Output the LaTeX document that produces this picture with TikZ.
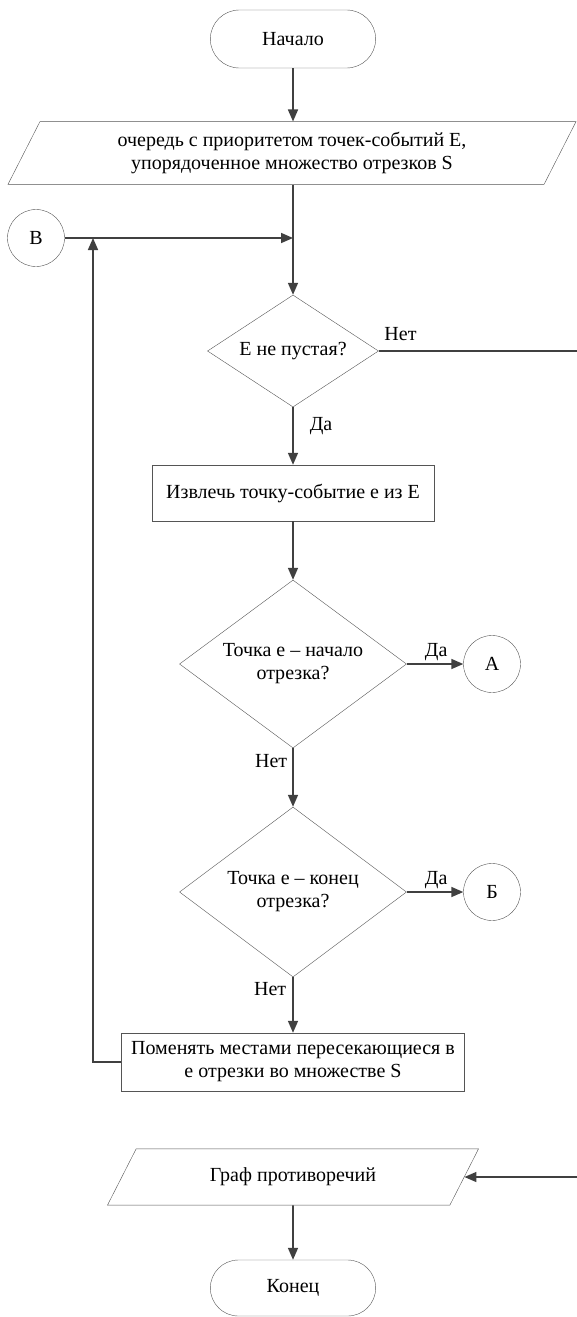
\documentclass[tikz,border=0pt]{standalone}
\usepackage{fontspec}
\setmainfont{Liberation Serif}
\usetikzlibrary{shapes.geometric,shapes.misc,arrows.meta}
\definecolor{linegray}{HTML}{404040}
\definecolor{edgegray}{HTML}{555555}

\begin{document}
\begin{tikzpicture}
    [   x=1pt,y=-1pt,
        every node/.style={font=\fontsize{20}{23}\selectfont},
        term/.style={draw=edgegray,rounded rectangle,minimum width=172pt,minimum height=58pt},
        io/.style={draw=edgegray,trapezium,trapezium left angle=63,trapezium right angle=117,
            trapezium stretches body,minimum width=#1,inner sep=0pt,align=center},
        cond/.style={draw=edgegray,diamond,aspect=1.35,inner sep=0pt,align=center},
        proc/.style={draw=edgegray,rectangle,inner sep=0pt,align=center},
        conn/.style={draw=edgegray,circle,minimum size=57pt,inner sep=0pt},
        lbl/.style={inner sep=2pt},
        line/.style={draw=linegray,line width=1.6pt},
        arr/.style={line,-{Triangle[length=12pt,width=10pt]}},
    ]
        \useasboundingbox (0,0) rectangle (577,1317);
        \node[term] (start) at (293,39) {Начало};
        \node[io=568pt,inner ysep=10.5pt] (input) at (292,153) {очередь с приоритетом точек-событий Е,\\упорядоченное множество отрезков S};
        \node[conn] (B) at (36,238) {В};
        \coordinate (join) at (293,238);
        \node[cond,minimum width=171pt,minimum height=112pt] (empty) at (293,351) {Е не пустая?};
        \coordinate (noexit) at (577,351);
        \node[proc,minimum width=282pt,minimum height=56pt] (pop) at (293,493) {Извлечь точку-событие е из Е};
        \node[cond,minimum width=227pt,minimum height=168pt] (isstart) at (293,664) {Точка е – начало\\отрезка?};
        \node[conn] (A) at (492,664) {А};
        \node[cond,minimum width=227pt,minimum height=170pt] (isend) at (293,892) {Точка е – конец\\отрезка?};
        \node[conn] (Bb) at (492,892) {Б};
        \node[proc,minimum width=343pt,minimum height=58pt] (swap) at (293,1062) {Поменять местами пересекающиеся в\\е отрезки во множестве S};
        \coordinate (loop) at (93,238);
        \node[io=371pt,inner ysep=19pt] (output) at (293,1177) {Граф противоречий};
        \coordinate (yesin) at (577,1177);
        \node[term,minimum height=56pt] (stop) at (293,1288) {Конец};

        \draw[arr] (start) -- (input.north -| start);
        \draw[line] (input.south -| join) -- (join);
        \draw[arr] (join) -- (empty);
        \draw[arr] (B) -- (join);
        \draw[line] (empty) -- node[lbl,above=8pt,pos=0.11] {Нет} (noexit);
        \draw[arr] (empty) -- node[lbl,right=14pt,pos=0.33] {Да} (pop);
        \draw[arr] (pop) -- (isstart);
        \draw[arr] (isstart) -- node[lbl,above,pos=0.52] {Да} (A);
        \draw[arr] (isstart) -- node[lbl,left=3pt,pos=0.22] {Нет} (isend);
        \draw[arr] (isend) -- node[lbl,above,pos=0.52] {Да} (Bb);
        \draw[arr] (isend) -- node[lbl,left=4pt,pos=0.21] {Нет} (swap);
        \draw[arr] (swap.west) -| (loop);
        \draw[arr] (yesin) -- (output);
        \draw[arr] (output) -- (stop);
    \end{tikzpicture}
\end{document}
